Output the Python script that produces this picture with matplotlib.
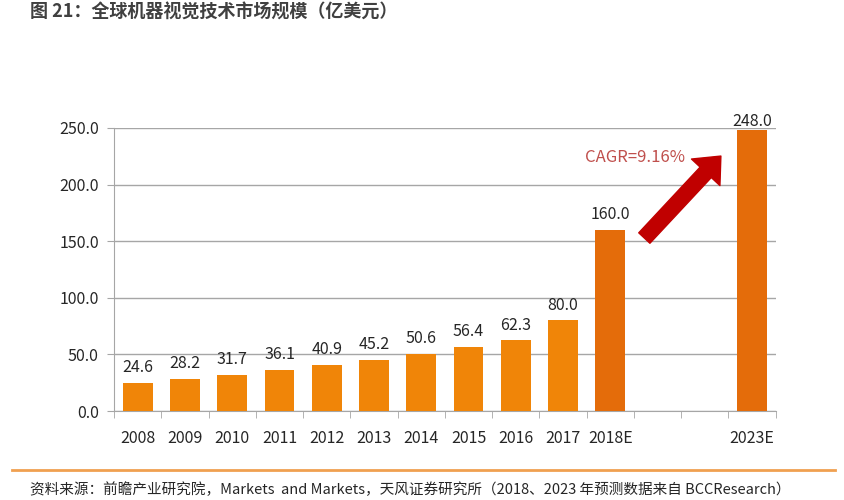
import numpy as np
import matplotlib
matplotlib.use("Agg")
from matplotlib import pyplot as plt
from matplotlib.patches import FancyArrowPatch

plt.rcParams['font.family'] = ['Noto Sans CJK SC', 'DejaVu Sans']

# data
years = ['2008', '2009', '2010', '2011', '2012', '2013', '2014', '2015', '2016', '2017', '2018E', '', '', '2023E']
values = [24.6, 28.2, 31.7, 36.1, 40.9, 45.2, 50.6, 56.4, 62.3, 80.0, 160.0, None, None, 248.0]
forecast = ['2018E', '2023E']
yticks = [0, 50, 100, 150, 200, 250]

fig = plt.figure(figsize=(8.45, 5.0), dpi=100)
ax = fig.add_axes([0.135, 0.178, 0.783, 0.566])

x = np.arange(len(years))
for i, (yr, v) in enumerate(zip(years, values)):
    if v is None:
        continue
    col = '#E46C0A' if yr in forecast else '#F08508'
    ax.bar(i, v, width=0.63, color=col, zorder=3)
    # the top label sits right on the bar (no room above the axis)
    off = 0 if v > 240 else 6
    ax.text(i, v + off, f'{v:.1f}', ha='center', va='bottom', fontsize=11.5, color='#262626', zorder=4)

ax.set_xlim(-0.5, len(years) - 0.5)
ax.set_ylim(0, 250)
ax.set_yticks(yticks)
ax.set_yticklabels([f'{t:.1f}' for t in yticks], fontsize=11.5, color='#262626')
ax.grid(axis='y', color='#A6A6A6', linewidth=1, zorder=0)

ax.set_xticks(x)
ax.set_xticklabels(years, fontsize=11.5, color='#262626')
ax.tick_params(axis='x', length=0, pad=14)
ax.tick_params(axis='y', length=5, color='#A6A6A6', direction='out', pad=6)
# boundary ticks between categories
ax.set_xticks(np.arange(-0.5, len(years)), minor=True)
ax.tick_params(axis='x', which='minor', length=5, color='#A6A6A6')

for s in ['top', 'right']:
    ax.spines[s].set_visible(False)
for s in ['left', 'bottom']:
    ax.spines[s].set_color('#A6A6A6')

# CAGR arrow
arr = FancyArrowPatch((10.68, 151), (12.38, 227), arrowstyle='simple,head_width=2.8,head_length=1.6,tail_width=1.1',
                      mutation_scale=10, color='#C00000', zorder=5)
ax.add_patch(arr)
ax.text(10.52, 224, 'CAGR=9.16%', ha='center', va='center', fontsize=12, color='#C0504D')

fig.text(0.035, 0.975, '图 21：全球机器视觉技术市场规模（亿美元）', fontsize=13, fontweight='bold',
         color='#404040', ha='left', va='center')

fig.add_artist(plt.Line2D([0.014, 0.988], [0.06, 0.06], color='#F0A050', linewidth=2, transform=fig.transFigure))
fig.text(0.035, 0.02, '资料来源：前瞻产业研究院，Markets  and Markets，天风证券研究所（2018、2023 年预测数据来自 BCCResearch）',
         fontsize=10.5, color='#262626', ha='left', va='center')

fig.savefig('out.png', dpi=100)
